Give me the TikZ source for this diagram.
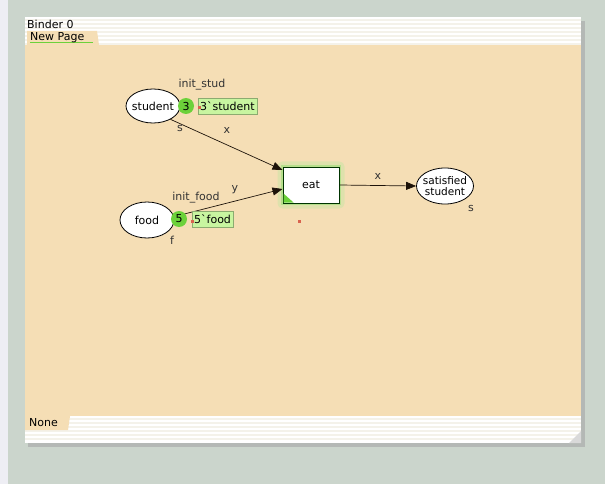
\documentclass[tikz,border=0pt]{standalone}
\usepackage{fontspec}
\setmainfont{DejaVu Sans}
\usetikzlibrary{arrows.meta,shapes.geometric}
\definecolor{bgc}{HTML}{CBD5CC}
\definecolor{wheatc}{HTML}{F5DEB5}
\definecolor{tokgreen}{HTML}{6CD13A}
\definecolor{markgreen}{HTML}{C8F5A0}
\definecolor{stripe}{HTML}{F4F2EA}
\definecolor{redmark}{HTML}{D9634E}
\definecolor{leftc}{HTML}{EEEEF4}
\tikzset{
  x=1pt,y=-1pt,
  every node/.style={font=\fontsize{11}{12}\selectfont, inner sep=0pt},
  place/.style={ellipse, draw=black, line width=0.8pt, fill=white},
  trans/.style={draw=black!80!green, line width=1pt, fill=white, minimum width=56pt, minimum height=36pt},
  token/.style={circle, fill=tokgreen, minimum size=16pt},
  marking/.style={fill=markgreen, draw=markgreen!70!black, line width=0.3pt, inner xsep=2pt, minimum height=16pt},
  arc/.style={draw=black!85!brown, line width=0.7pt, -{Triangle[length=10pt,width=8pt]}},
  lbl/.style={text=black!80},
  rdot/.style={fill=redmark, minimum size=3pt, inner sep=0pt}
}
\begin{document}
\begin{tikzpicture}
\useasboundingbox (0,0) rectangle (605,484);
\fill[bgc] (0,0) rectangle (605,484);
\fill[leftc] (0,0) rectangle (8,484);
% shadow
\fill[black!35, opacity=0.6] (28,21) rectangle (585,447);
% window
\fill[white] (25,17) rectangle (581,443);
\foreach \yy in {20,24,...,44} {\draw[stripe, line width=1.2pt] (25,\yy) -- (581,\yy);}
\foreach \yy in {419,423,...,441} {\draw[stripe, line width=1.2pt] (25,\yy) -- (581,\yy);}
\fill[wheatc] (25,45) rectangle (581,416);
% tabs
\fill[wheatc] (27,31) -- (97,31) -- (99,45) -- (27,45) -- cycle;
\draw[tokgreen, line width=1pt] (30,43) -- (93,43);
\node[anchor=west] (binder) at (27,24) {Binder 0};
\node[anchor=west] (newpage) at (30,37.5) {New Page};
\fill[wheatc] (25,416) -- (70,416) -- (68,430) -- (25,430) -- cycle;
\node[anchor=west] (none) at (29,423) {None};
\fill[black!15] (581,431) -- (581,443) -- (569,443) -- cycle;

% places
\node[place, minimum width=54pt, minimum height=34pt] (student) at (153,106) {};
\node (studentlbl) at (student) {student};
\node[place, minimum width=54pt, minimum height=36pt] (food) at (147,220) {};
\node (foodlbl) at (food) {food};
\node[place, minimum width=57pt, minimum height=36pt] (sat) at (445,186) {};
\node[align=center, font=\fontsize{10.5}{11}\selectfont] (satlbl) at (sat) {satisfied\\student};

% transition
\node[draw=tokgreen!50, line width=5pt, opacity=0.35, rounded corners=3pt, minimum width=62pt, minimum height=42pt] (glow) at (311,185) {};
\node[draw=tokgreen!70, line width=2pt, opacity=0.6, minimum width=58pt, minimum height=38pt] (glow2) at (311,185) {};
\node[trans] (eat) at (311,185) {eat};
\fill[tokgreen] (eat.south west) ++(1,-1) -- ++(10,0) -- ++(-10,-9) -- cycle;

% arcs
\draw[arc] (student.south east) ++(-2,1) coordinate (s1) -- (eat.west |- 0,170) coordinate (e1);
\draw[arc] (food.east) ++(2,-4) coordinate (f1) -- (eat.west |- 0,189) coordinate (e2);
\draw[arc] (eat.east) -- (sat.west);

% tokens and markings
\node[token] (tok3) at (186,106) {3};
\node[marking, anchor=west] (m3) at (198,106) {3\textasciigrave student};
\node[token] (tok5) at (179,219) {5};
\node[marking, anchor=west] (m5) at (192,219.5) {5\textasciigrave food};
\node[rdot] (r1) at (199,108) {};
\node[rdot] (r2) at (192,221) {};
\node[rdot] (r3) at (299,221) {};

% labels
\node[lbl] (initstud) at (202,85) {init\_stud};
\node[lbl] (initfood) at (196,198) {init\_food};
\node[lbl] (ls) at (180,128) {s};
\node[lbl] (lf) at (172,240) {f};
\node[lbl] (lsat) at (471,208) {s};
\node[lbl] (ax) at (227,130) {x};
\node[lbl] (ay) at (235,190) {y};
\node[lbl] (ax2) at (378,176) {x};
\end{tikzpicture}
\end{document}
